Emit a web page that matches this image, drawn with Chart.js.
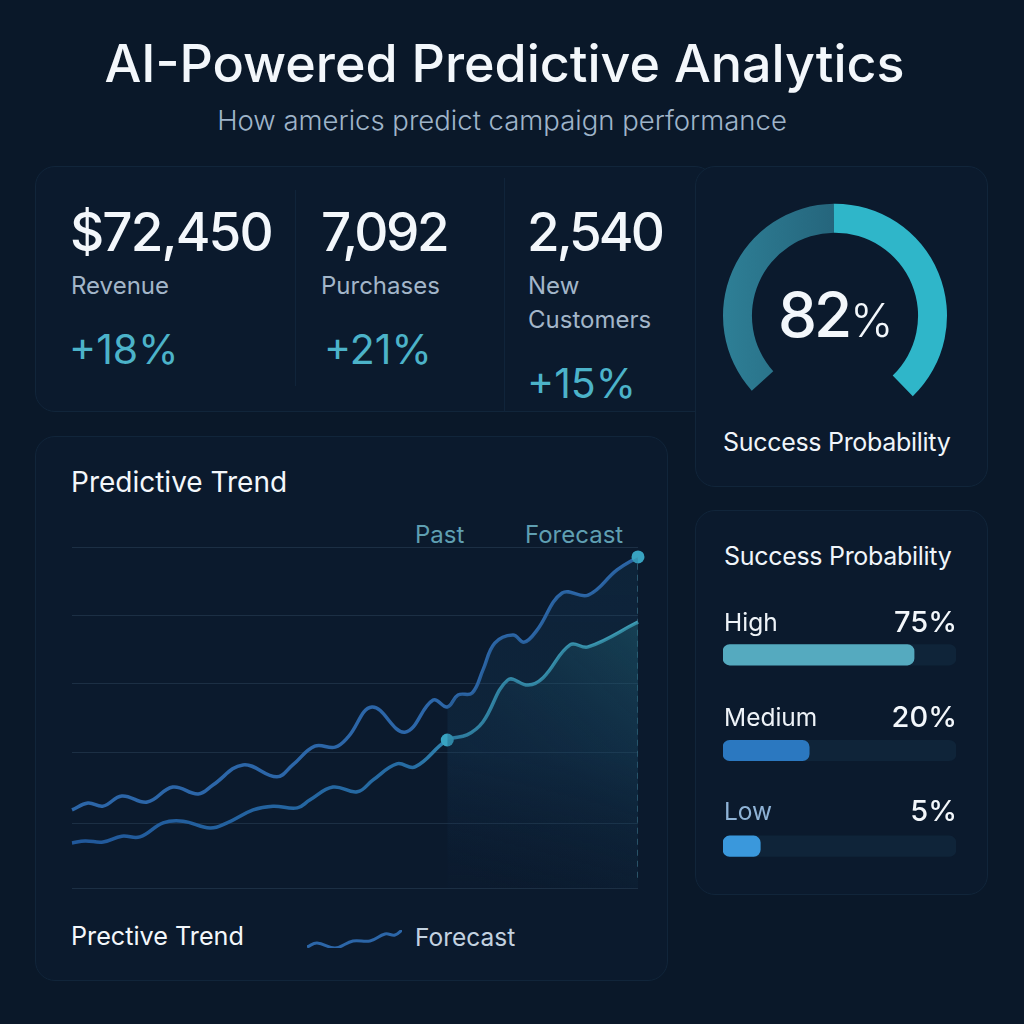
<!DOCTYPE html>
<html>
<head>
<meta charset="utf-8">
<script src="https://cdn.jsdelivr.net/npm/chart.js@4"></script>
<style>
  html, body { margin: 0; padding: 0; width: 1024px; height: 1024px; overflow: hidden; background: #0a1829; }
  body { position: relative; font-family: Inter, "Noto Sans", sans-serif; color: #f3f7fb; }
  .panel { position: absolute; box-sizing: border-box; background: #0b1a2d; border: 1px solid #11253a; border-radius: 20px; }
  .divider { position: absolute; width: 1px; background: #10243a; }
  .t { position: absolute; white-space: nowrap; transform: translateY(-50%); line-height: 1; }
  .num { font-size: 53px; font-weight: 500; }
  .lab { font-size: 24px; color: #a3b6c9; }
  .up { font-size: 41px; color: #4cb3c9; }
  .head { font-size: 25px; letter-spacing: -0.3px; color: #f0f5fa; }
  .pct { font-size: 29px; font-weight: 500; right: 67px; margin-top: -1px; }
  canvas { position: absolute; }
</style>
</head>
<body>
  <div class="panel" style="left:35px;top:166px;width:680px;height:246px"></div>
  <div class="panel" style="left:695px;top:166px;width:293px;height:321px"></div>
  <div class="panel" style="left:695px;top:510px;width:293px;height:385px"></div>
  <div class="panel" style="left:35px;top:436px;width:633px;height:545px"></div>
  <div class="divider" style="left:295px;top:190px;height:196px"></div>
  <div class="divider" style="left:504px;top:178px;height:234px"></div>

  <div class="t" style="left:0;width:1009px;text-align:center;top:64px;font-size:52px;font-weight:500">AI-Powered Predictive Analytics</div>
  <div class="t" style="left:0;width:1004px;text-align:center;top:121px;font-size:27.5px;font-weight:300;color:#9fb4c9">How americs predict campaign performance</div>

  <div class="t num" style="left:70px;top:232px;letter-spacing:-1.9px">$72,450</div>
  <div class="t lab" style="left:71px;top:286px">Revenue</div>
  <div class="t up" style="left:69px;top:349px">+18%</div>
  <div class="t num" style="left:321px;top:232px;letter-spacing:-2.5px">7,092</div>
  <div class="t lab" style="left:321px;top:286px">Purchases</div>
  <div class="t up" style="left:324px;top:349px">+21%</div>
  <div class="t num" style="left:527px;top:232px;letter-spacing:-3px">2,540</div>
  <div class="t lab" style="left:528px;top:286px">New</div>
  <div class="t lab" style="left:528px;top:320px">Customers</div>
  <div class="t up" style="left:527px;top:383px">+15%</div>

  <div class="t" style="left:71px;top:482px;font-size:28px;font-weight:400">Predictive Trend</div>
  <div class="t" style="left:415px;top:535px;font-size:24px;color:#5f9fb2">Past</div>
  <div class="t" style="left:525px;top:535px;font-size:24px;color:#5f9fb2">Forecast</div>
  <div class="t" style="left:71px;top:937px;font-size:25.2px">Prective Trend</div>
  <div class="t" style="left:415px;top:937px;font-size:24.5px;color:#c3d2e0">Forecast</div>

  <canvas id="trendChart" style="left:62px;top:537px;width:590px;height:361px"></canvas>
  <canvas id="legendLine" style="left:302px;top:925px;width:105px;height:28px"></canvas>
  <canvas id="gaugeChart" style="left:715px;top:180px;width:240px;height:240px"></canvas>
  <canvas id="barsChart" style="left:723px;top:607px;width:233px;height:287px"></canvas>

  <div class="t" style="left:778px;top:315px;font-size:62px;font-weight:500;letter-spacing:-3px">82<span style="font-size:46px;font-weight:300;letter-spacing:0;margin-left:1px">%</span></div>
  <div class="t head" style="left:723px;top:442px">Success Probability</div>
  <div class="t head" style="left:724px;top:556px">Success Probability</div>

  <div id="barLabels"></div>

<script>
// values, y in 0-100 of the plot height, x in 0-100 of its width
const upperX = [0, 2.8, 5.5, 8.8, 13.3, 17.8, 22.3, 24.9, 30.2, 36.2, 39.0, 42.9, 46.5, 48.8, 53.0, 58.8, 63.8, 66.3, 68.2, 70.7, 72.6, 74.7, 77.9, 79.9, 82.2, 86.6, 91.2, 96.3, 100];
const upperY = [22.9, 24.9, 24.0, 27.0, 25.2, 29.6, 27.6, 30.2, 36.1, 32.6, 36.1, 41.6, 41.3, 44.3, 53.1, 45.7, 55.1, 53.1, 56.6, 57.2, 63.9, 71.8, 74.2, 72.1, 75.7, 86.5, 85.9, 93.3, 97.1];
const lowerX = [0, 2.3, 5.5, 8.8, 12.0, 16.1, 19.6, 24.4, 27.4, 32.0, 35.5, 39.8, 42.0, 46.1, 50.4, 53.2, 57.4, 60.6, 66.3, 69.8, 72.6, 77.0, 80.6, 83.2, 88.0, 91.2, 100];
const lowerY = [13.2, 13.8, 13.5, 15.2, 15.0, 19.1, 19.6, 17.6, 19.1, 22.9, 24.0, 23.5, 25.8, 29.6, 28.2, 31.7, 36.4, 35.5, 43.4, 44.9, 48.7, 61.0, 59.5, 61.6, 71.3, 70.7, 78.0];
const forecastStart = 66.3;
const gridTicks = [0, 19, 39.6, 60, 80, 100];
const edgeX = [100, 100];
const edgeY = [3, 97];

const legendX = [0, 10, 28, 46, 63, 78, 88, 95];
const legendY = [1, 5, 0, 7, 7, 14, 13, 18];

const gaugeValues = [49, 51];

const barCategories = ['High', 'Medium', 'Low'];
const barValues = [82, 37, 16];
const barTexts = ['75%', '20%', '5%'];
const barTrack = [100, 100, 100];
const barColors = ['#55aabf', '#2b78c0', '#3a98dc'];
const barLabelColors = ['#eef3f8', '#eef3f8', '#8fb3d6'];

function toPoints(xs, ys) {
  return xs.map((x, i) => ({ x: x, y: ys[i] }));
}

function forecastPart(points) {
  return points.filter(p => p.x >= forecastStart);
}

const upperPoints = toPoints(upperX, upperY);
const lowerPoints = toPoints(lowerX, lowerY);

function lowerLineColor(ctx) {
  const area = ctx.chart.chartArea;
  if (!area) return '#21589b';
  const g = ctx.chart.ctx.createLinearGradient(area.left, 0, area.right, 0);
  g.addColorStop(0, '#21589b');
  g.addColorStop(0.6, '#266ca3');
  g.addColorStop(0.7, '#3794b5');
  g.addColorStop(1, '#45b0c6');
  return g;
}

function upperFill(ctx) {
  const area = ctx.chart.chartArea;
  if (!area) return 'transparent';
  const g = ctx.chart.ctx.createLinearGradient(0, area.top, 0, area.bottom);
  g.addColorStop(0, 'rgba(30,80,115,0.18)');
  g.addColorStop(0.6, 'rgba(24,65,100,0.24)');
  g.addColorStop(1, 'rgba(16,40,70,0.06)');
  return g;
}

function lowerFill(ctx) {
  const area = ctx.chart.chartArea;
  if (!area) return 'transparent';
  const g = ctx.chart.ctx.createLinearGradient(area.right, area.top + 70, area.right - 190, area.bottom - 30);
  g.addColorStop(0, 'rgba(40,125,135,0.38)');
  g.addColorStop(0.55, 'rgba(25,80,105,0.12)');
  g.addColorStop(1, 'rgba(20,50,80,0)');
  return g;
}

new Chart(document.getElementById('trendChart'), {
  type: 'line',
  data: {
    datasets: [
      {
        data: forecastPart(upperPoints),
        borderWidth: 0,
        pointRadius: 0,
        fill: 'origin',
        backgroundColor: upperFill,
        tension: 0.4
      },
      {
        data: forecastPart(lowerPoints),
        borderWidth: 0,
        pointRadius: 0,
        fill: 'origin',
        backgroundColor: lowerFill,
        tension: 0.4
      },
      {
        data: toPoints(edgeX, edgeY),
        borderColor: 'rgba(90,165,185,0.6)',
        borderWidth: 1.5,
        borderDash: [6, 5],
        pointRadius: 0
      },
      {
        data: upperPoints,
        borderColor: '#2c66a8',
        borderWidth: 3.5,
        tension: 0.4,
        clip: false,
        pointBackgroundColor: '#38a3c1',
        pointBorderWidth: 0,
        pointRadius: ctx => ctx.dataIndex === upperPoints.length - 1 ? 6.5 : 0
      },
      {
        data: lowerPoints,
        borderColor: lowerLineColor,
        borderWidth: 3.5,
        tension: 0.4,
        clip: false,
        pointBackgroundColor: '#38a3c1',
        pointBorderWidth: 0,
        pointRadius: ctx => lowerPoints[ctx.dataIndex].x === forecastStart ? 6.5 : 0
      }
    ]
  },
  options: {
    responsive: false,
    animation: false,
    layout: { padding: { left: 10, right: 14, top: 10, bottom: 10 } },
    plugins: { legend: { display: false }, tooltip: { enabled: false } },
    scales: {
      x: { type: 'linear', min: 0, max: 100, display: false },
      y: {
        min: 0,
        max: 100,
        afterBuildTicks: axis => { axis.ticks = gridTicks.map(v => ({ value: v })); },
        ticks: { display: false },
        border: { display: false },
        grid: { color: 'rgba(115,155,185,0.17)', lineWidth: 1, drawTicks: false }
      }
    }
  }
});

new Chart(document.getElementById('legendLine'), {
  type: 'line',
  data: {
    datasets: [{
      data: toPoints(legendX, legendY),
      borderColor: '#2c66a8',
      borderWidth: 3,
      pointRadius: 0,
      tension: 0.4
    }]
  },
  options: {
    responsive: false,
    animation: false,
    layout: { padding: 5 },
    plugins: { legend: { display: false }, tooltip: { enabled: false } },
    scales: {
      x: { type: 'linear', min: 0, max: 95, display: false },
      y: { min: 0, max: 18, display: false }
    }
  }
});

function gaugeColor(ctx) {
  if (ctx.dataIndex === 1) return '#2fb6c9';
  const g = ctx.chart.ctx.createLinearGradient(8, 0, 120, 0);
  g.addColorStop(0, '#2e7f96');
  g.addColorStop(1, '#25657c');
  return g;
}

new Chart(document.getElementById('gaugeChart'), {
  type: 'doughnut',
  data: {
    labels: ['Remaining', 'Success'],
    datasets: [{
      data: gaugeValues,
      backgroundColor: gaugeColor,
      borderWidth: 0
    }]
  },
  options: {
    responsive: false,
    animation: false,
    rotation: -132,
    circumference: 268,
    radius: 112,
    cutout: 89,
    plugins: { legend: { display: false }, tooltip: { enabled: false } }
  }
});

new Chart(document.getElementById('barsChart'), {
  type: 'bar',
  data: {
    labels: barCategories,
    datasets: [
      {
        data: barValues,
        backgroundColor: barColors,
        borderRadius: 7,
        borderSkipped: false,
        barThickness: 20.5,
        order: 1
      },
      {
        data: barTrack,
        backgroundColor: '#0f2439',
        borderRadius: 7,
        borderSkipped: false,
        barThickness: 20.5,
        order: 2
      }
    ]
  },
  options: {
    responsive: false,
    animation: false,
    indexAxis: 'y',
    datasets: { bar: { grouped: false } },
    plugins: { legend: { display: false }, tooltip: { enabled: false } },
    scales: {
      x: { min: 0, max: 100, display: false },
      y: { display: false }
    }
  }
});

// category names and percentages above the bars
const rowTops = [622, 717, 811];
const barLabels = document.getElementById('barLabels');
barCategories.forEach((name, i) => {
  const left = document.createElement('div');
  left.className = 't';
  left.style.cssText = 'left:724px;top:' + rowTops[i] + 'px;font-size:24.5px;color:' + barLabelColors[i];
  left.textContent = name;
  barLabels.appendChild(left);
  const right = document.createElement('div');
  right.className = 't pct';
  right.style.top = rowTops[i] + 'px';
  right.textContent = barTexts[i];
  barLabels.appendChild(right);
});
</script>
</body>
</html>
